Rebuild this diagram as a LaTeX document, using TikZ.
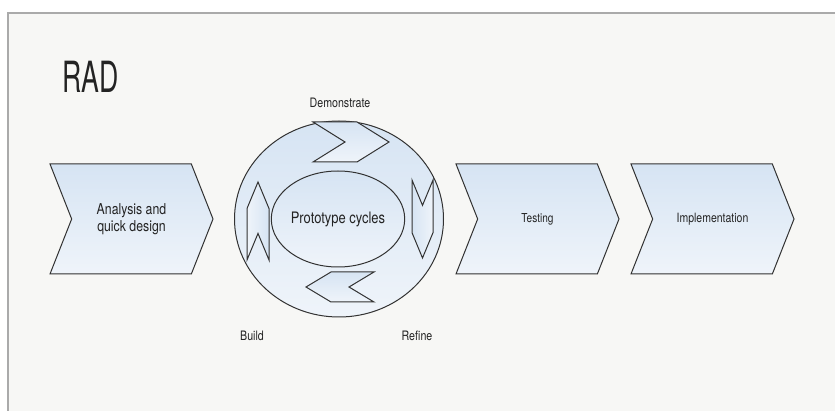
\documentclass[tikz,border=0pt]{standalone}
\usepackage{fontspec}
\setmainfont{TeX Gyre Heros}[FakeStretch=0.82]
\newfontfamily\titlefont{TeX Gyre Heros}[FakeStretch=0.62]
\usetikzlibrary{shapes.geometric, shapes.symbols, positioning}

\definecolor{slidebg}{RGB}{247,247,245}
\definecolor{framegray}{RGB}{170,170,170}
\definecolor{edgegray}{RGB}{50,50,50}
\definecolor{textgray}{RGB}{35,35,35}
\definecolor{topblue}{RGB}{214,228,243}
\definecolor{lowblue}{RGB}{239,244,250}

\begin{document}
\begin{tikzpicture}[x=1pt, y=-1pt, every node/.style={text=textgray},
    stepshape/.style={draw=edgegray, line width=1pt, top color=topblue, bottom color=lowblue, inner sep=0pt, outer sep=0pt},
    arrowshape/.style={stepshape, signal, signal from=west, signal to=east},
    chevron/.style={arrowshape, minimum width=163, minimum height=110, signal pointer angle=137, align=center},
    step label/.style={inner sep=0pt, font=\fontsize{13}{15}\selectfont}]

    %Slide
    \useasboundingbox (0,0) rectangle (835,411);
    \fill[white] (0,0) rectangle (835,411);
    \fill[slidebg] (8,13) rectangle (835,411);
    \draw[framegray, line width=2pt] (8,411) -- (8,13) -- (835,13);

    %Nodes
    \node[anchor=base west, inner sep=0pt, font=\titlefont\fontsize{43}{43}\selectfont] (title) at (62,93) {RAD};
    \node[chevron, font=\fontsize{15}{17.5}\selectfont] (analysis) at (131.5,219) {Analysis and\\quick design};
    \node[stepshape, ellipse, minimum width=209, minimum height=196] (cycle) at (339,219) {};
    \node[stepshape, ellipse, minimum width=130, minimum height=96, font=\fontsize{15.8}{18}\selectfont] (prototype) at (338,219) {Prototype cycles};
    \node[arrowshape, minimum width=76, minimum height=40, signal pointer angle=64] (demo) at (351,142) {};
    \node[arrowshape, rotate=-90, left color=topblue, right color=lowblue, minimum width=78, minimum height=21, signal pointer angle=45] (refine) at (422.5,219) {};
    \node[arrowshape, rotate=180, minimum width=68, minimum height=30, signal pointer angle=62] (rework) at (340,287) {};
    \node[arrowshape, rotate=90, left color=lowblue, right color=topblue, minimum width=78, minimum height=22, signal pointer angle=45] (build) at (258,221) {};
    \node[chevron, font=\fontsize{12.3}{14}\selectfont] (testing) at (537.5,219) {Testing};
    \node[chevron, font=\fontsize{12.8}{15}\selectfont] (implementation) at (712.5,219) {Implementation};

    %Labels
    \node[step label] (demotext) at (340,103) {Demonstrate};
    \node[step label] (buildtext) at (252,336) {Build};
    \node[step label] (refinetext) at (417,336) {Refine};

\end{tikzpicture}
\end{document}
